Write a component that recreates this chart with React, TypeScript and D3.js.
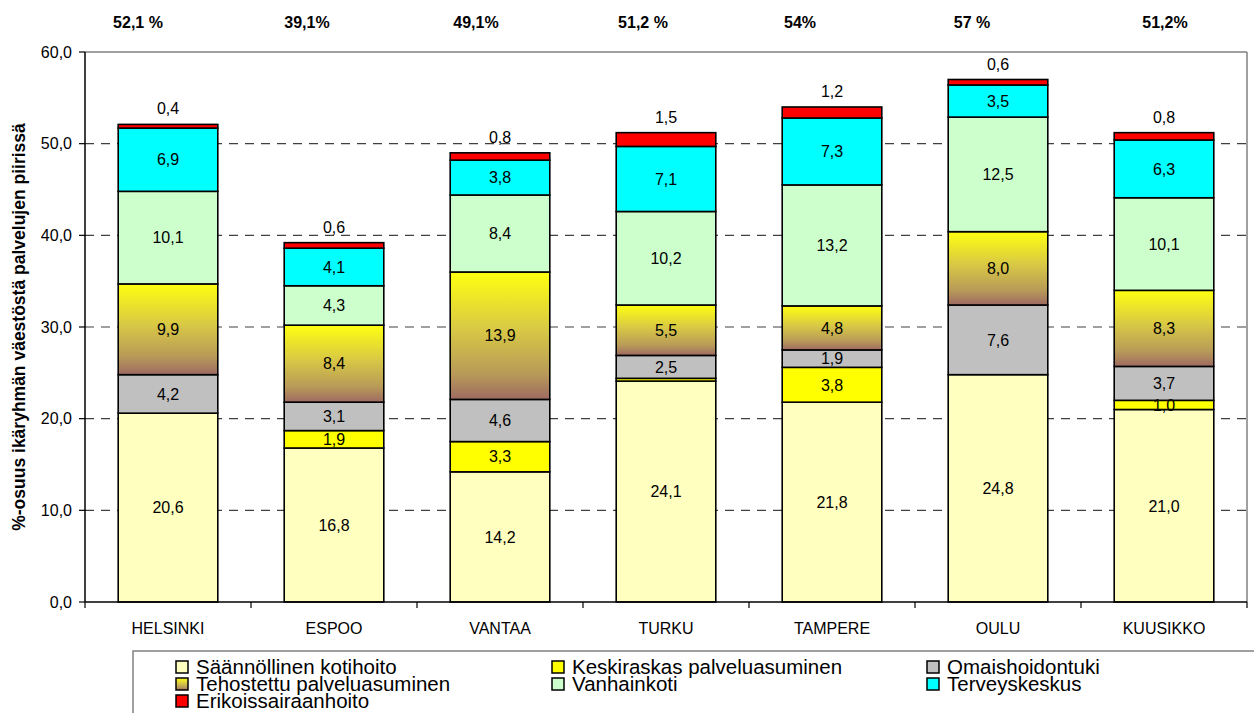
import React from 'react';
import * as d3 from 'd3';

const categories = ['HELSINKI', 'ESPOO', 'VANTAA', 'TURKU', 'TAMPERE', 'OULU', 'KUUSIKKO'];
const kotihoito = [20.6, 16.8, 14.2, 24.1, 21.8, 24.8, 21.0];
const keskiraskas = [0, 1.9, 3.3, 0.3, 3.8, 0, 1.0];
const omaishoidontuki = [4.2, 3.1, 4.6, 2.5, 1.9, 7.6, 3.7];
const tehostettu = [9.9, 8.4, 13.9, 5.5, 4.8, 8.0, 8.3];
const vanhainkoti = [10.1, 4.3, 8.4, 10.2, 13.2, 12.5, 10.1];
const terveyskeskus = [6.9, 4.1, 3.8, 7.1, 7.3, 3.5, 6.3];
const erikoissairaanhoito = [0.4, 0.6, 0.8, 1.5, 1.2, 0.6, 0.8];
const totalLabels = ['52,1 %', '39,1%', '49,1%', '51,2 %', '54%', '57 %', '51,2%'];
const yTicks = [0, 10, 20, 30, 40, 50, 60];

const seriesNames = [
  'Säännöllinen kotihoito',
  'Keskiraskas palveluasuminen',
  'Omaishoidontuki',
  'Tehostettu palveluasuminen',
  'Vanhainkoti',
  'Terveyskeskus',
  'Erikoissairaanhoito',
];
const seriesValues = [kotihoito, keskiraskas, omaishoidontuki, tehostettu, vanhainkoti, terveyskeskus, erikoissairaanhoito];
const seriesFills = ['#FFFFC0', '#FFFF00', '#C0C0C0', 'url(#gradTeho)', '#CCFFCC', '#00FFFF', '#FF0000'];

// layout constants
const W = 1254;
const H = 713;
const plotLeft = 85;
const plotRight = 1247;
const plotTop = 52;
const plotBottom = 602;
const totalOffsets = [-30, -27, -24, -23, -32, -26, 1];
const FONT = 'Liberation Sans, Arial, sans-serif';
const FS = 16;

const fmt = (v: number) => d3.format('.1f')(v).replace('.', ',');

export default function App() {
  const x = d3.scaleBand<string>().domain(categories).range([plotLeft, plotRight]).paddingInner(0.4).paddingOuter(0.2);
  const y = d3.scaleLinear().domain([0, 60]).range([plotBottom, plotTop]);

  const rows = categories.map((c, i) => {
    const o: any = { cat: c };
    seriesNames.forEach((s, k) => (o[s] = seriesValues[k][i]));
    return o;
  });
  const stacked = d3.stack().keys(seriesNames)(rows);
  const step = x.step();

  const legendCols = [176, 552, 927];
  const legendRowY = [667, 684, 701];

  return (
    <svg width={W} height={H} style={{ position: 'absolute', left: 0, top: 0, background: '#fff' }} fontFamily={FONT}>
      <defs>
        <linearGradient id="gradTeho" x1="0" y1="0" x2="0" y2="1">
          <stop offset="0%" stopColor="#FFFF10" />
          <stop offset="45%" stopColor="#D8C845" />
          <stop offset="80%" stopColor="#B89A58" />
          <stop offset="100%" stopColor="#9E6A62" />
        </linearGradient>
      </defs>
      <rect x={0} y={0} width={W} height={H} fill="#fff" />
      {/* plot border top/right */}
      <line x1={plotLeft} x2={plotRight} y1={plotTop} y2={plotTop} stroke="#808080" strokeWidth={1.5} />
      <line x1={plotRight} x2={plotRight} y1={plotTop} y2={plotBottom} stroke="#808080" strokeWidth={1.5} />
      {/* gridlines */}
      {yTicks.filter((t) => t > 0 && t < 60).map((t) => (
        <line key={t} x1={plotLeft} x2={plotRight} y1={y(t)} y2={y(t)} stroke="#404040" strokeWidth={1.2} strokeDasharray="9,7" />
      ))}
      {/* bars */}
      {stacked.map((layer, k) => (
        <g key={k}>
          {layer.map((d, i) => {
            const v = seriesValues[k][i];
            if (v <= 0) return null;
            const y0 = y(d[0]);
            const y1 = y(d[1]);
            return (
              <rect key={i} x={x(categories[i])} y={y1} width={x.bandwidth()} height={y0 - y1}
                fill={seriesFills[k]} stroke="#000" strokeWidth={1.6} />
            );
          })}
        </g>
      ))}
      {/* segment labels */}
      {stacked.map((layer, k) => (
        <g key={'l' + k}>
          {layer.map((d, i) => {
            const v = seriesValues[k][i];
            const cx = (x(categories[i]) as number) + x.bandwidth() / 2;
            if (k === seriesNames.length - 1) {
              return (
                <text key={i} x={cx} y={y(d[1]) - 10} textAnchor="middle" fontSize={FS}>{fmt(v)}</text>
              );
            }
            if (v < 0.5) return null;
            return (
              <text key={i} x={cx} y={(y(d[0]) + y(d[1])) / 2} dy="0.36em" textAnchor="middle" fontSize={FS}>{fmt(v)}</text>
            );
          })}
        </g>
      ))}
      {/* axes */}
      <line x1={plotLeft} x2={plotLeft} y1={plotTop} y2={plotBottom} stroke="#000" strokeWidth={1.5} />
      <line x1={plotLeft} x2={plotRight} y1={plotBottom} y2={plotBottom} stroke="#000" strokeWidth={1.5} />
      {yTicks.map((t) => (
        <g key={'t' + t}>
          <line x1={plotLeft - 6} x2={plotLeft} y1={y(t)} y2={y(t)} stroke="#000" strokeWidth={1.2} />
          <text x={plotLeft - 13} y={y(t)} dy="0.36em" textAnchor="end" fontSize={FS}>{fmt(t)}</text>
        </g>
      ))}
      {categories.map((c, i) => (
        <line key={'ct' + i} x1={plotLeft + step * i} x2={plotLeft + step * i} y1={plotBottom} y2={plotBottom + 6} stroke="#000" strokeWidth={1.2} />
      ))}
      <line x1={plotRight} x2={plotRight} y1={plotBottom} y2={plotBottom + 6} stroke="#000" strokeWidth={1.2} />
      {categories.map((c) => (
        <text key={'c' + c} x={(x(c) as number) + x.bandwidth() / 2} y={628} dy="0.36em" textAnchor="middle" fontSize={FS}>{c}</text>
      ))}
      {/* totals on top */}
      {categories.map((c, i) => (
        <text key={'tot' + i} x={(x(c) as number) + x.bandwidth() / 2 + totalOffsets[i]} y={22} dy="0.36em" textAnchor="middle" fontSize={FS} fontWeight="bold">{totalLabels[i]}</text>
      ))}
      {/* y title */}
      <text transform={`translate(19, ${(plotTop + plotBottom) / 2}) rotate(-90)`} textAnchor="middle" dy="0.36em" fontSize={17.5} fontWeight="bold">
        %-osuus ikäryhmän väestöstä palvelujen piirissä
      </text>
      {/* legend */}
      <rect x={133} y={651} width={1200} height={100} fill="none" stroke="#808080" strokeWidth={1.5} />
      {seriesNames.map((s, k) => {
        const col = k % 3;
        const row = Math.floor(k / 3);
        const lx = legendCols[col];
        const ly = legendRowY[row];
        return (
          <g key={'lg' + k}>
            <rect x={lx} y={ly - 6} width={12} height={12} fill={seriesFills[k]} stroke="#000" strokeWidth={1.5} />
            <text x={lx + 20} y={ly} dy="0.36em" fontSize={20.5}>{s}</text>
          </g>
        );
      })}
    </svg>
  );
}
